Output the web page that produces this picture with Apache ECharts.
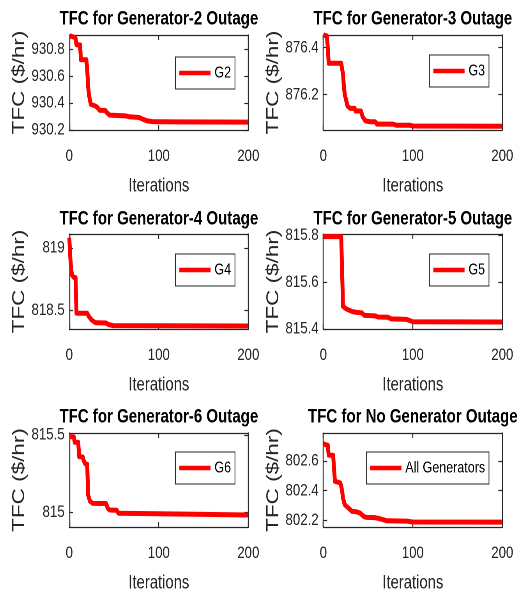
<!DOCTYPE html>
<html>
<head>
<meta charset="utf-8">
<script src="https://cdn.jsdelivr.net/npm/echarts@6/dist/echarts.min.js"></script>
<style>
  html, body { margin: 0; padding: 0; background: #ffffff; overflow: hidden; }
  #frame { width: 520px; height: 591px; overflow: hidden; position: relative; }
  /* The figure is laid out on a wider canvas and squeezed horizontally to 520px */
  #chart { width: 667px; height: 591px; transform: scaleX(0.7796); transform-origin: 0 0; }
</style>
</head>
<body>
<div id="frame"><div id="chart"></div></div>
<script>
// Total fuel cost (TFC) convergence over the iterations, one panel per outage case.

const xTicks = [0, 100, 200];

const panelTitles = [
  'TFC for Generator-2 Outage',
  'TFC for Generator-3 Outage',
  'TFC for Generator-4 Outage',
  'TFC for Generator-5 Outage',
  'TFC for Generator-6 Outage',
  'TFC for No Generator Outage'
];
const seriesNames = ['G2', 'G3', 'G4', 'G5', 'G6', 'All Generators'];

// Generator-2 outage
const iterG2 = [0, 5, 7, 8, 12, 13, 19, 20, 21, 22, 24, 25, 29, 31, 34, 40, 42, 45, 63, 67, 78, 82, 87, 93, 120, 200];
const tfcG2  = [930.90, 930.89, 930.88, 930.832, 930.832, 930.721, 930.721, 930.65, 930.52, 930.46, 930.39, 930.378, 930.378, 930.37, 930.346, 930.346, 930.329, 930.31, 930.305, 930.298, 930.293, 930.28, 930.268, 930.262, 930.26, 930.258];
const yTicksG2 = [930.2, 930.4, 930.6, 930.8];
const yLimG2 = [930.2, 930.905];

// Generator-3 outage
const iterG3 = [0, 4, 5, 6, 20, 21, 22, 23, 24, 25, 27, 30, 35, 36, 42, 44, 47, 52, 58, 60, 78, 82, 97, 100, 200];
const tfcG3  = [876.454, 876.45, 876.40, 876.334, 876.334, 876.31, 876.29, 876.234, 876.2, 876.185, 876.152, 876.142, 876.142, 876.131, 876.131, 876.106, 876.089, 876.085, 876.085, 876.075, 876.075, 876.07, 876.07, 876.067, 876.066];
const yTicksG3 = [876.2, 876.4];
const yLimG3 = [876.05, 876.454];

// Generator-4 outage
const iterG4 = [0, 1, 2, 3, 5, 7, 8, 20, 22, 25, 29, 41, 44, 49, 200];
const tfcG4  = [819.08, 818.93, 818.835, 818.782, 818.763, 818.76, 818.476, 818.476, 818.449, 818.422, 818.401, 818.398, 818.385, 818.377, 818.374];
const yTicksG4 = [818.5, 819];
const yLimG4 = [818.35, 819.11];

// Generator-5 outage
const iterG5 = [0, 20, 21, 22, 26, 32, 37, 43, 46, 58, 61, 72, 76, 93, 100, 200];
const tfcG5  = [815.794, 815.794, 815.65, 815.496, 815.485, 815.475, 815.471, 815.469, 815.458, 815.456, 815.451, 815.45, 815.443, 815.441, 815.431, 815.43];
const yTicksG5 = [815.4, 815.6, 815.8];
const yLimG5 = [815.4, 815.805];

// Generator-6 outage
const iterG6 = [0, 5, 6, 10, 11, 15, 16, 18, 20, 21, 23, 26, 41, 43, 45, 53, 55, 100, 200];
const tfcG6  = [815.49, 815.488, 815.453, 815.452, 815.36, 815.358, 815.335, 815.312, 815.31, 815.112, 815.073, 815.058, 815.057, 815.026, 815.015, 815.013, 814.994, 814.991, 814.983];
const yTicksG6 = [815, 815.5];
const yLimG6 = [814.905, 815.513];

// No outage (all generators in service)
const iterAll = [0, 5, 6, 11, 12, 13, 19, 20, 21, 22, 24, 28, 32, 37, 41, 45, 48, 58, 63, 71, 93, 100, 200];
const tfcAll  = [802.715, 802.706, 802.64, 802.638, 802.55, 802.463, 802.452, 802.43, 802.40, 802.35, 802.305, 802.283, 802.261, 802.258, 802.249, 802.227, 802.22, 802.218, 802.211, 802.197, 802.195, 802.189, 802.188];
const yTicksAll = [802.2, 802.4, 802.6];
const yLimAll = [802.155, 802.789];

const panels = [
  { iter: iterG2,  tfc: tfcG2,  ticks: yTicksG2,  lim: yLimG2 },
  { iter: iterG3,  tfc: tfcG3,  ticks: yTicksG3,  lim: yLimG3 },
  { iter: iterG4,  tfc: tfcG4,  ticks: yTicksG4,  lim: yLimG4 },
  { iter: iterG5,  tfc: tfcG5,  ticks: yTicksG5,  lim: yLimG5 },
  { iter: iterG6,  tfc: tfcG6,  ticks: yTicksG6,  lim: yLimG6 },
  { iter: iterAll, tfc: tfcAll, ticks: yTicksAll, lim: yLimAll }
];

// Layout of the 3x2 panel grid, in the (unsqueezed) canvas pixels
const CANVAS_W = 667;
const colLeft = [88.9, 414.7];
const plotW = 229.6;
const rowTop = [35, 234, 433];
const rowH = [95, 95, 94];
const titleY = [9.5, 209.5, 407.5];
const legendTop = [[57, 55], [254, 254], [452, 452]];
const legendRight = [CANVAS_W - 301.4, CANVAS_W - 627.2];

const AXIS_COLOR = '#262626';
const FONT = '"Liberation Sans", Arial, Helvetica, sans-serif';

const grid = [], xAxis = [], yAxis = [], series = [], title = [], legend = [];

panels.forEach((p, i) => {
  const row = Math.floor(i / 2), col = i % 2;
  grid.push({
    left: colLeft[col], top: rowTop[row], width: plotW, height: rowH[row],
    show: false, containLabel: false, outerBoundsMode: 'none'
  });

  const line = { show: true, onZero: false, lineStyle: { color: AXIS_COLOR, width: 1.2 } };
  const tickStyle = { show: true, inside: true, length: 5, lineStyle: { color: AXIS_COLOR, width: 1.2 } };
  const labelFont = { color: AXIS_COLOR, fontFamily: FONT, fontSize: 17 };

  // bottom x axis with labels and name
  xAxis.push({
    type: 'value', gridIndex: i, position: 'bottom', min: 0, max: 200,
    axisLine: line,
    axisTick: Object.assign({ customValues: xTicks }, tickStyle),
    axisLabel: Object.assign({ customValues: xTicks, margin: 18 }, labelFont),
    splitLine: { show: false },
    name: 'Iterations', nameLocation: 'middle', nameGap: 47,
    nameTextStyle: { color: AXIS_COLOR, fontFamily: FONT, fontSize: 19 }
  });
  // mirrored top axis (ticks only)
  xAxis.push({
    type: 'value', gridIndex: i, position: 'top', min: 0, max: 200,
    axisLine: line,
    axisTick: Object.assign({ customValues: xTicks }, tickStyle),
    axisLabel: { show: false },
    splitLine: { show: false }
  });
  // left y axis with labels and name
  yAxis.push({
    type: 'value', gridIndex: i, position: 'left', min: p.lim[0], max: p.lim[1],
    axisLine: line,
    axisTick: Object.assign({ customValues: p.ticks }, tickStyle),
    axisLabel: Object.assign({ customValues: p.ticks, margin: 6 }, labelFont),
    splitLine: { show: false },
    name: 'TFC ($/hr)', nameLocation: 'middle', nameGap: 48, nameRotate: 90,
    nameTextStyle: { color: AXIS_COLOR, fontFamily: FONT, fontSize: 22.5 }
  });
  // mirrored right axis (ticks only)
  yAxis.push({
    type: 'value', gridIndex: i, position: 'right', min: p.lim[0], max: p.lim[1],
    axisLine: line,
    axisTick: Object.assign({ customValues: p.ticks }, tickStyle),
    axisLabel: { show: false },
    splitLine: { show: false }
  });

  series.push({
    name: seriesNames[i],
    type: 'line',
    xAxisIndex: 2 * i, yAxisIndex: 2 * i,
    data: p.iter.map((it, k) => [it, p.tfc[k]]),
    showSymbol: false, symbol: 'none',
    lineStyle: { color: '#ff0000', width: 5, join: 'round' },
    itemStyle: { color: '#ff0000' },
    clip: true
  });

  title.push({
    text: panelTitles[i],
    left: colLeft[col] + plotW / 2, textAlign: 'center',
    top: titleY[row], padding: 0,
    textStyle: { color: '#000000', fontFamily: FONT, fontWeight: 'bold', fontSize: 19.3, lineHeight: 19 }
  });

  legend.push({
    data: [seriesNames[i]],
    right: legendRight[col], top: legendTop[row][col],
    orient: 'horizontal',
    icon: 'rect', itemWidth: 40, itemHeight: 4.5,
    padding: [8, 5, 8, 5],
    backgroundColor: '#ffffff', borderColor: AXIS_COLOR, borderWidth: 1, borderRadius: 0,
    selectedMode: false,
    textStyle: { color: '#000000', fontFamily: FONT, fontSize: 16, lineHeight: 16 }
  });
});

const chart = echarts.init(document.getElementById('chart'), null, { renderer: 'canvas', devicePixelRatio: 2 });
chart.setOption({
  animation: false,
  backgroundColor: '#ffffff',
  title, legend, grid, xAxis, yAxis, series
});
</script>
</body>
</html>
